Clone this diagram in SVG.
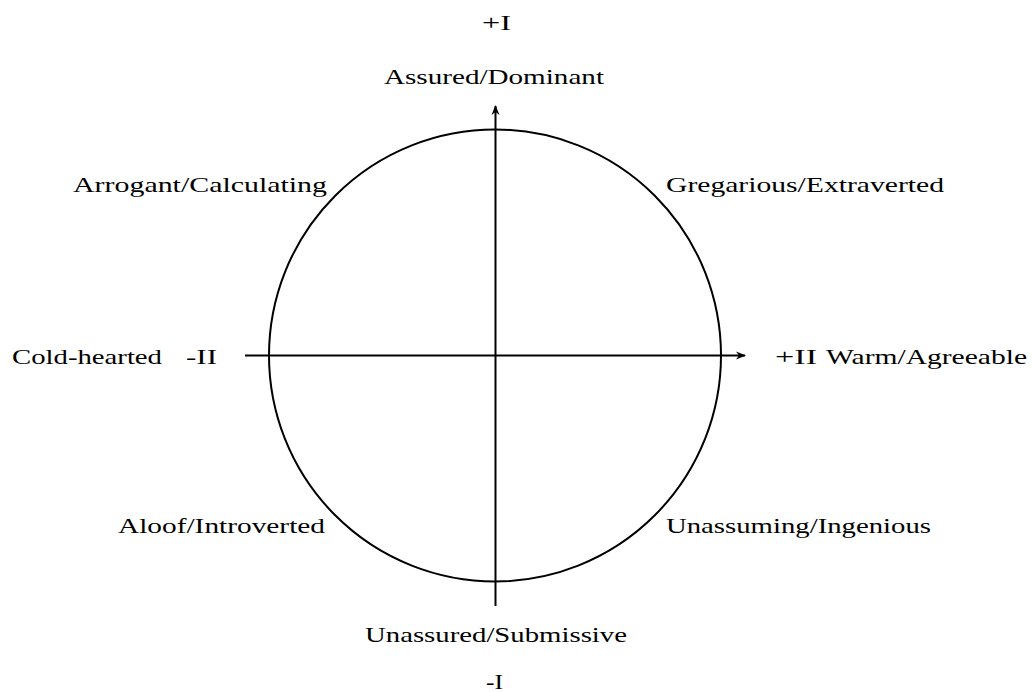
<svg xmlns="http://www.w3.org/2000/svg" width="1032" height="692" viewBox="0 0 1032 692">
<style>
text{font-family:"Liberation Serif","DejaVu Serif",serif;font-size:22px;fill:#000}
.ln{stroke:#000;stroke-width:2;fill:none}
</style>
<defs>
<marker id="ah" viewBox="0 0 10 10" refX="9" refY="5" markerWidth="10" markerHeight="10" markerUnits="userSpaceOnUse" orient="auto">
<path d="M0,1 L10,5 L0,9 L3,5 Z" fill="#000"/>
</marker>
</defs>
<rect width="1032" height="692" fill="#fff"/>
<g id="circle"><circle class="ln" cx="495" cy="355.5" r="226"/></g>
<g id="connectors">
<line class="ln" x1="495.5" y1="606" x2="495.5" y2="106" marker-end="url(#ah)"/>
<line class="ln" x1="245" y1="355.5" x2="745" y2="355.5" marker-end="url(#ah)"/>
</g>
<g id="labels">
<text x="482" y="30" textLength="29" lengthAdjust="spacingAndGlyphs">+I</text>
<text x="384" y="84" textLength="220" lengthAdjust="spacingAndGlyphs">Assured/Dominant</text>
<text x="73" y="192" textLength="254" lengthAdjust="spacingAndGlyphs">Arrogant/Calculating</text>
<text x="666" y="192" textLength="278" lengthAdjust="spacingAndGlyphs">Gregarious/Extraverted</text>
<text x="12" y="364" textLength="150" lengthAdjust="spacingAndGlyphs">Cold-hearted</text>
<text x="186" y="364" textLength="31" lengthAdjust="spacingAndGlyphs">-II</text>
<text x="775" y="364" textLength="42" lengthAdjust="spacingAndGlyphs">+II</text>
<text x="826" y="364" textLength="201" lengthAdjust="spacingAndGlyphs">Warm/Agreeable</text>
<text x="118" y="533" textLength="207" lengthAdjust="spacingAndGlyphs">Aloof/Introverted</text>
<text x="666" y="533" textLength="265" lengthAdjust="spacingAndGlyphs">Unassuming/Ingenious</text>
<text x="365" y="642" textLength="262" lengthAdjust="spacingAndGlyphs">Unassured/Submissive</text>
<text x="486" y="689" textLength="17" lengthAdjust="spacingAndGlyphs">-I</text>
</g>
</svg>
